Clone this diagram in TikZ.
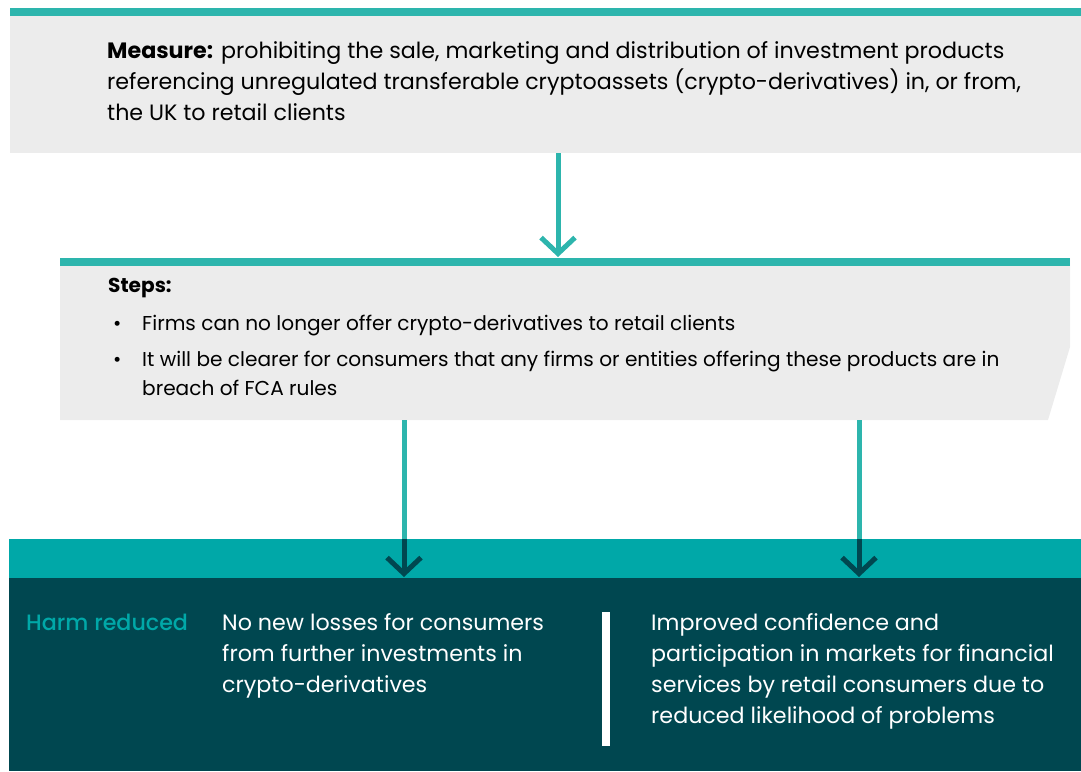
\documentclass[tikz,border=0pt]{standalone}
\usepackage{fontspec}
\setmainfont{Poppins}
\newfontfamily\mediumfont{Poppins Medium}
\usetikzlibrary{arrows.meta}
\definecolor{fcateal}{HTML}{2DB5AD}
\definecolor{fcagrey}{HTML}{ECECEC}
\definecolor{fcaband}{HTML}{00A8A8}
\definecolor{fcadark}{HTML}{004750}
\begin{document}
\begin{tikzpicture}[x=1pt,y=-1pt,
  panel/.style={draw=none, inner sep=0, outer sep=0, anchor=north west},
  body/.style={inner sep=0, anchor=base west, align=left, font=\fontsize{22.2}{31}\selectfont},
  small/.style={inner sep=0, anchor=base west, align=left, font=\fontsize{20.1}{29}\selectfont},
  flow/.style={draw=fcateal, line width=5pt, -{Straight Barb[length=16pt,width=34pt]}},
  link/.style={draw=fcateal, line width=5pt},
  darkflow/.style={draw=fcadark, line width=5pt, -{Straight Barb[length=16pt,width=34pt]}}]
\useasboundingbox (0,0) rectangle (1081,771);

% measure box
\node[panel, fill=fcagrey, minimum width=1071pt, minimum height=145pt] (measure) at (10,8) {};
\fill[fcateal] (10,8) rectangle (1081,15.5);
% base anchor sits on the last line
\node[body] (measuretext) at (107,120) {\textbf{Measure:} prohibiting the sale, marketing and distribution of investment products\\referencing unregulated transferable cryptoassets (crypto-derivatives) in, or from,\\the UK to retail clients};

% steps box
\fill[fcagrey] (60,258) -- (1070,258) -- (1070,347) -- (1048,420) -- (60,420) -- cycle;
\fill[fcateal] (60,258) rectangle (1070,266);
\coordinate (stepstop) at (558,257);
\coordinate (stepsleft) at (404,420);
\coordinate (stepsright) at (859,420);
\node[small] (steps) at (108,292) {\textbf{Steps:}};
\node[small] (dot1) at (113,330) {•};
\node[small] (item1) at (142,330) {Firms can no longer offer crypto-derivatives to retail clients};
\node[small] (dot2) at (113,366) {•};
\node[small] (item2) at (142,395) {It will be clearer for consumers that any firms or entities offering these products are in\\breach of FCA rules};

% outcome box
\node[panel, fill=fcaband, minimum width=1072pt, minimum height=39pt] (band) at (9,539) {};
\node[panel, fill=fcadark, minimum width=1072pt, minimum height=193pt] (harm) at (9,578) {};
\node[body, text=fcaband, font=\fontsize{22.2}{31}\mediumfont] (harmlabel) at (26,630) {Harm reduced};
\node[body, text=white] (loss) at (222,692) {No new losses for consumers\\from further investments in\\crypto-derivatives};
\fill[white] (602,612) rectangle (610,746);
\node[body, text=white] (trust) at (651,723) {Improved confidence and\\participation in markets for financial\\services by retail consumers due to\\reduced likelihood of problems};

% arrows
\path[flow] (measure.south -| stepstop) -- (stepstop);
\path[link] (stepsleft) -- (stepsleft |- band.north);
\path[link] (stepsright) -- (stepsright |- band.north);
\path[darkflow] (stepsleft |- band.north) -- ([yshift=1pt]stepsleft |- harm.north);
\path[darkflow] (stepsright |- band.north) -- ([yshift=1pt]stepsright |- harm.north);
\end{tikzpicture}
\end{document}
